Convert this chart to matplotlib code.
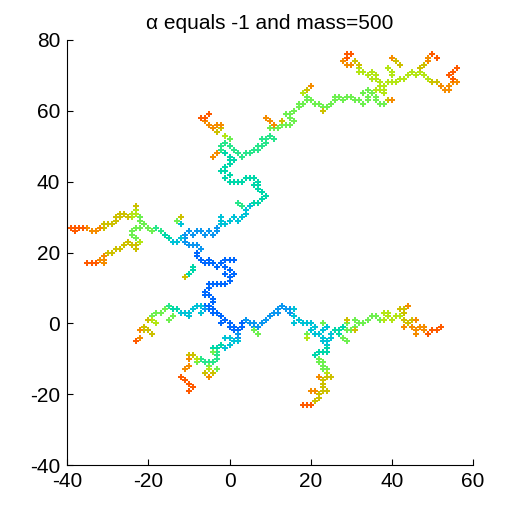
import numpy as np
import matplotlib
matplotlib.use("Agg")
import matplotlib.pyplot as plt

# lattice sites of the cluster, grouped by the colour they show in the picture
blue = [(-8, 20), (-8, 19), (-7, 18), (-6, 17), (-5, 18), (-5, 17), (-4, 17), (-3, 16),
        (-2, 17), (-1, 18), (-1, 16), (0, 15), (0, 18), (1, 18), (-1, 14), (0, 13), (1, 14),
        (0, 12), (-1, 11), (-2, 11), (-3, 11), (-4, 11), (-5, 10), (-5, 11), (-6, 9), (-5, 8),
        (-4, 7), (-4, 6), (-5, 5), (-6, 5), (-5, 4), (-4, 4), (-4, 3), (-3, 3), (-2, 2), (-1, 1),
        (-2, 0), (0, 0), (0, -1), (1, -1), (1, -2), (2, -2), (3, -1), (3, 0), (-6, 8)]
azure = [(-7, 21), (-8, 22), (-9, 22), (-10, 22), (-11, 23), (-11, 24), (-11, 25), (-10, 26),
         (-9, 25), (-8, 26), (-7, 26), (-6, 25), (-5, 26), (-4, 25), (-3, 26), (-3, 27), (4, 1),
         (5, 0), (6, 0), (6, -1), (7, -1), (8, 0), (9, 1), (10, 2), (11, 3), (12, 3), (12, 4),
         (13, 5), (14, 4), (15, 4), (15, 3), (2, -3), (2, -4), (-6, 4)]
cyan = [(16, 4), (16, 2), (17, 1), (16, 0), (18, 0), (19, 0), (20, 0), (21, -1), (20, -2),
        (21, -3), (22, -3), (23, -2), (24, -1), (23, -4), (23, -5), (24, -6), (24, -5), (25, -4),
        (25, -3), (-7, 5), (-8, 5), (-7, 3), (-9, 4), (-10, 3), (-10, 2), (-11, 3), (-12, 3),
        (2, -5), (1, -5), (0, -4), (0, -6), (-1, -7), (-1, -4), (-14, 23), (-13, 23), (-12, 24),
        (-12, 28), (-2, 28), (-2, 29), (-2, 30), (-1, 28), (0, 29), (1, 30), (2, 29), (3, 30),
        (4, 31), (4, 32), (5, 33)]
teal = [(6, 34), (7, 34), (8, 35), (9, 36), (8, 37), (7, 38), (7, 39), (6, 39), (7, 40), (6, 41),
        (5, 41), (4, 41), (3, 40), (2, 40), (1, 40), (0, 40), (-1, 41), (0, 42), (-1, 43), (-2, 43),
        (-1, 44), (0, 45), (0, 46), (1, 46), (0, 47), (-1, 48), (-16, 25), (-15, 24), (26, -2),
        (27, -2), (27, -3), (28, -1), (24, -7), (24, -8), (23, -8), (22, -8), (21, -9), (-13, 4),
        (-14, 4), (-2, -6), (-3, -7), (-4, -7), (-9, 16), (-9, 15), (-10, 14)]
green1 = [(-2, 50), (-2, 49), (-1, 51), (0, 50), (1, 49), (2, 48), (3, 47), (4, 48), (5, 48),
          (6, 49), (7, 49), (7, 50), (8, 50), (8, 52), (9, 51), (10, 53), (11, 52), (9, 52),
          (-15, 5), (-3, -8), (-3, -9), (-3, -10), (-4, -11), (-5, -11), (-6, -11), (-7, -10),
          (2, 34), (3, 33), (-17, 26), (-18, 27)]
green2 = [(10, 55), (11, 55), (12, 55), (13, 56), (14, 56), (15, 56), (15, 58), (14, 59), (15, 59),
          (16, 60), (16, 57), (17, 61), (17, 62), (18, 62), (19, 63), (19, 64), (20, 63), (21, 62),
          (22, 62), (23, 61), (24, 61), (25, 62), (26, 63), (26, 64), (27, 64), (28, 63), (29, 64),
          (30, 64), (31, 63), (32, 63), (33, 62), (34, 64), (34, 63), (35, 65), (34, 66), (33, 65),
          (36, 63), (37, 62), (38, 62), (36, 64), (0, 52), (-20, 27), (-19, 26), (-21, 28),
          (-22, 27), (-23, 27), (-24, 26), (-24, 25), (-23, 24), (-22, 29), (-22, 30), (7, -3),
          (6, -2), (23, 0), (19, -3), (29, -5), (28, -4), (29, -2), (30, -2), (31, -1), (29, 0),
          (31, 1), (32, 0), (33, 0), (34, 1), (35, 2), (36, 2), (37, 1), (22, -10), (22, -11),
          (23, -11), (23, -12), (23, -13), (24, -13), (-14, 2), (-15, 1), (-16, 4), (-17, 3),
          (-18, 3), (-19, 2), (-4, -8), (-3, -13), (-5, -12), (-8, -11), (-13, 29)]
ygreen = [(37, 66), (38, 65), (37, 67), (37, 68), (38, 67), (38, 66), (39, 68), (40, 68), (41, 68),
          (42, 69), (43, 69), (44, 70), (45, 71), (46, 70), (47, 71), (48, 70), (49, 69), (35, 69),
          (36, 69), (36, 70), (35, 71), (34, 70), (33, 71), (32, 71), (32, 72), (39, 72), (40, 71),
          (40, 70), (36, 66), (18, 65), (-1, 53), (38, 3), (39, 3), (38, 1), (39, 2), (40, 1),
          (41, 2), (42, 2), (-24, 30), (-24, 31), (-23, 31), (-23, 32), (-22, 23), (-19, 1),
          (-18, 0), (-8, -10), (-5, -13), (24, -14), (19, -4)]
yellow = [(32, 73), (31, 74), (42, 73), (41, 74), (47, 72), (48, 73), (50, 68), (51, 68), (19, 66),
          (13, 57), (23, 60), (-3, 54), (-2, 55), (-27, 31), (-27, 30), (-26, 31), (-25, 30),
          (-28, 29), (-28, 30), (-29, 28), (-30, 28), (-31, 28), (-31, 27), (-23, 33), (-23, 22),
          (-24, 22), (-23, 21), (-25, 23), (-26, 22), (-27, 21), (-28, 21), (-29, 20), (-30, 20),
          (-12, 30), (-11, 13), (29, 1), (31, -2), (42, 4), (43, 4), (43, 3), (43, 1), (44, 0),
          (45, 1), (-20, 1), (-21, -1), (-20, -2), (-19, -3), (-21, -2), (-10, -9), (-9, -9),
          (-6, -14), (-4, -14), (25, -15), (24, -15), (23, -16), (23, -17), (23, -18), (24, -19),
          (23, -19), (22, -20), (22, -21), (21, -22), (39, 63)]
orange = [(-35, 27), (-34, 26), (-33, 26), (-32, 27), (-31, 19), (-31, 18), (-32, 18), (-31, 17),
          (28, 74), (29, 73), (30, 73), (40, 75), (49, 75), (49, 74), (54, 67), (54, 66), (53, 66),
          (52, 67), (55, 68), (56, 68), (44, 5), (43, -1), (46, 1), (45, -1), (46, -2), (47, -1),
          (48, -1), (48, -2), (46, -3), (-22, -2), (-22, -4), (-10, -10), (-10, -12), (-11, -13),
          (-5, -15), (22, -15), (20, -19), (21, -19), (9, 58), (10, 57), (11, 56), (-3, 48),
          (-4, 47), (-3, 56), (-2, 56), (-4, 55), (-5, 56), (-6, 57), (20, 67), (40, 63)]
ored = [(-39, 27), (-38, 27), (-38, 26), (-37, 27), (-36, 27), (-33, 17), (-34, 17), (-35, 17),
        (29, 76), (30, 76), (29, 75), (55, 69), (54, 70), (55, 71), (56, 72), (50, 76), (51, 75),
        (49, -3), (50, -2), (51, -2), (52, -1), (-23, -5), (-12, -15), (-11, -16), (-10, -17),
        (-9, -18), (-10, -19), (18, -23), (19, -23), (20, -23), (-5, 59), (-6, 58), (-7, 58)]

groups = [blue, azure, cyan, teal, green1, green2, ygreen, yellow, orange, ored]
colors = ['#0068ff', '#0a96f0', '#00c3d7', '#00d7aa', '#28e68c', '#6ef050',
          '#b4e614', '#cdc000', '#f58c00', '#ff5a00']

xticks = [-40, -20, 0, 20, 40, 60]
yticks = [-40, -20, 0, 20, 40, 60, 80]

plt.rcParams['font.family'] = ['Liberation Sans', 'DejaVu Sans']
plt.rcParams['axes.unicode_minus'] = False

fig = plt.figure(figsize=(5.25, 5.25), dpi=100)
ax = fig.add_axes([0.128, 0.114, 0.773, 0.810])

for pts, c in zip(groups, colors):
    p = np.array(pts)
    ax.scatter(p[:, 0], p[:, 1], s=20, marker='P', color=c, linewidths=0)

ax.set_xlim(-40, 60)
ax.set_ylim(-40, 80)
ax.set_xticks(xticks)
ax.set_yticks(yticks)
ax.tick_params(direction='in', length=4, labelsize=15, pad=5)
for s in ['top', 'right']:
    ax.spines[s].set_visible(False)
ax.set_title("\u03b1 equals -1 and mass=500", fontsize=15, pad=8)

fig.savefig("out.png", dpi=100)
